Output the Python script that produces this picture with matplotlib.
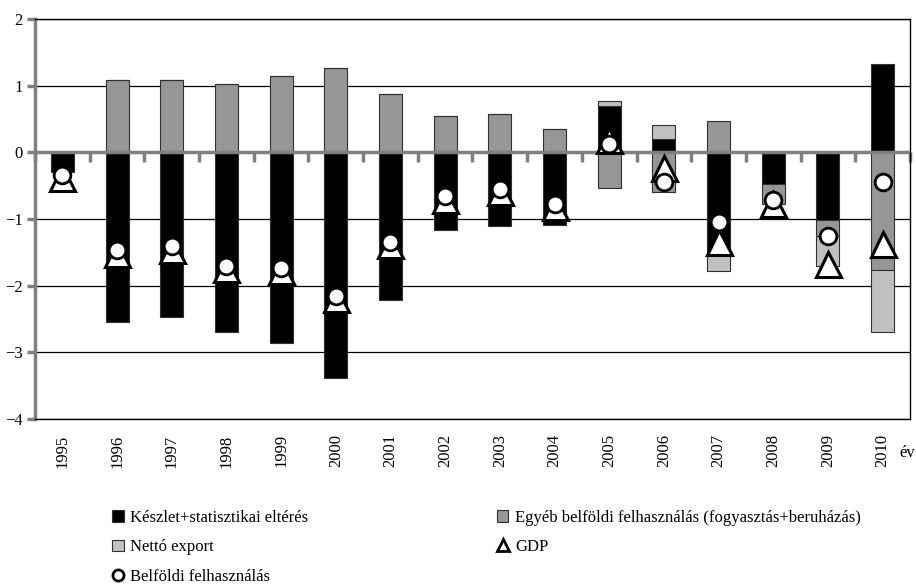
import matplotlib
matplotlib.use('Agg')
import matplotlib.pyplot as plt
import numpy as np
from matplotlib.patches import Patch
from matplotlib.lines import Line2D

plt.rcParams['font.family'] = ['Liberation Serif', 'DejaVu Serif']
plt.rcParams['font.size'] = 12

years = ['1995', '1996', '1997', '1998', '1999', '2000', '2001', '2002',
         '2003', '2004', '2005', '2006', '2007', '2008', '2009', '2010']

keszlet = [-0.30, -2.54, -2.47, -2.69, -2.86, -3.38, -2.21, -1.17,
           -1.11, -1.09, 0.69, 0.20, -1.49, -0.48, -1.02, 1.32]
egyeb = [0.00, 1.08, 1.08, 1.03, 1.15, 1.26, 0.88, 0.54,
         0.58, 0.35, -0.54, -0.60, 0.47, -0.30, -0.23, -1.77]
netto = [0.00, 0.00, 0.00, 0.00, 0.00, 0.00, 0.00, 0.00,
         0.00, 0.00, 0.08, 0.21, -0.29, 0.00, -0.45, -0.93]
gdp = [-0.38, -1.52, -1.46, -1.75, -1.78, -2.20, -1.39, -0.71,
       -0.60, -0.82, 0.18, -0.23, -1.35, -0.77, -1.67, -1.38]
belfoldi = [-0.34, -1.47, -1.41, -1.70, -1.73, -2.15, -1.34, -0.66,
            -0.55, -0.77, 0.12, -0.44, -1.05, -0.71, -1.25, -0.45]

labels = ['Készlet+statisztikai eltérés',
          'Egyéb belföldi felhasználás (fogyasztás+beruházás)',
          'Nettó export', 'GDP', 'Belföldi felhasználás']
colors = ['#000000', '#969696', '#c0c0c0']

fig = plt.figure(figsize=(9.16, 5.86), dpi=100)
ax = fig.add_axes([35 / 916, 1 - 419 / 586, 875 / 916, 400 / 586])

x = np.arange(len(years))
pos_base = np.zeros(len(years))
neg_base = np.zeros(len(years))
for vals, col in zip([keszlet, egyeb, netto], colors):
    vals = np.array(vals)
    bottom = np.where(vals >= 0, pos_base, neg_base)
    ax.bar(x, vals, width=0.42, bottom=bottom, color=col,
           edgecolor='#303030', linewidth=0.8, zorder=3)
    pos_base = pos_base + np.where(vals > 0, vals, 0)
    neg_base = neg_base + np.where(vals < 0, vals, 0)

# gray zero line drawn across the bars
ax.axhline(0, color='#808080', linewidth=2.5, zorder=3.5)

ax.plot(x, gdp, linestyle='none', marker='^', markersize=18,
        markerfacecolor='white', markeredgecolor='black', markeredgewidth=2.2,
        zorder=4)
ax.plot(x, belfoldi, linestyle='none', marker='o', markersize=12,
        markerfacecolor='white', markeredgecolor='black', markeredgewidth=2,
        zorder=5)

ax.set_xlim(-0.5, len(years) - 0.5)
ax.set_ylim(-4, 2)
ax.set_yticks([-4, -3, -2, -1, 0, 1, 2])
ax.yaxis.grid(True, color='black', linewidth=0.9)
ax.set_axisbelow(True)

ax.set_xticks(x)
ax.set_xticklabels(years, rotation=90)
ax.tick_params(axis='x', length=0, pad=11)
ax.tick_params(axis='y', length=6, width=2.5, color='#808080', pad=3)

for side in ['top', 'right', 'bottom']:
    ax.spines[side].set_color('black')
    ax.spines[side].set_linewidth(1)
ax.spines['left'].set_color('#808080')
ax.spines['left'].set_linewidth(2.5)

# category ticks hanging from the zero line
sec = ax.secondary_xaxis(4 / 6)
sec.xaxis.set_ticks_position('bottom')
sec.set_xticks(np.arange(len(years) + 1) - 0.5)
sec.set_xticklabels([])
sec.tick_params(direction='out', length=7, width=2.5, color='#808080')
for side in sec.spines:
    sec.spines[side].set_visible(False)

fig.text(899 / 916, 1 - 453 / 586, 'év', va='center', ha='left')

handles = [Patch(facecolor=colors[0], edgecolor='#303030', linewidth=0.8),
           Patch(facecolor=colors[2], edgecolor='#303030', linewidth=0.8),
           Line2D([], [], linestyle='none', marker='o', markersize=8,
                  markerfacecolor='white', markeredgecolor='black',
                  markeredgewidth=2),
           Patch(facecolor=colors[1], edgecolor='#303030', linewidth=0.8),
           Line2D([], [], linestyle='none', marker='^', markersize=9,
                  markerfacecolor='white', markeredgecolor='black',
                  markeredgewidth=2)]
leg_labels = [labels[0], labels[2], labels[4], labels[1], labels[3]]
fig.legend(handles, leg_labels, ncol=2, loc='upper left',
           bbox_to_anchor=(112 / 916, 1 - 510 / 586), frameon=False,
           handlelength=0.7, handleheight=0.7, handletextpad=0.4,
           labelspacing=0.8, columnspacing=11.3, borderpad=0, borderaxespad=0)

fig.savefig('out.png', dpi=100)
